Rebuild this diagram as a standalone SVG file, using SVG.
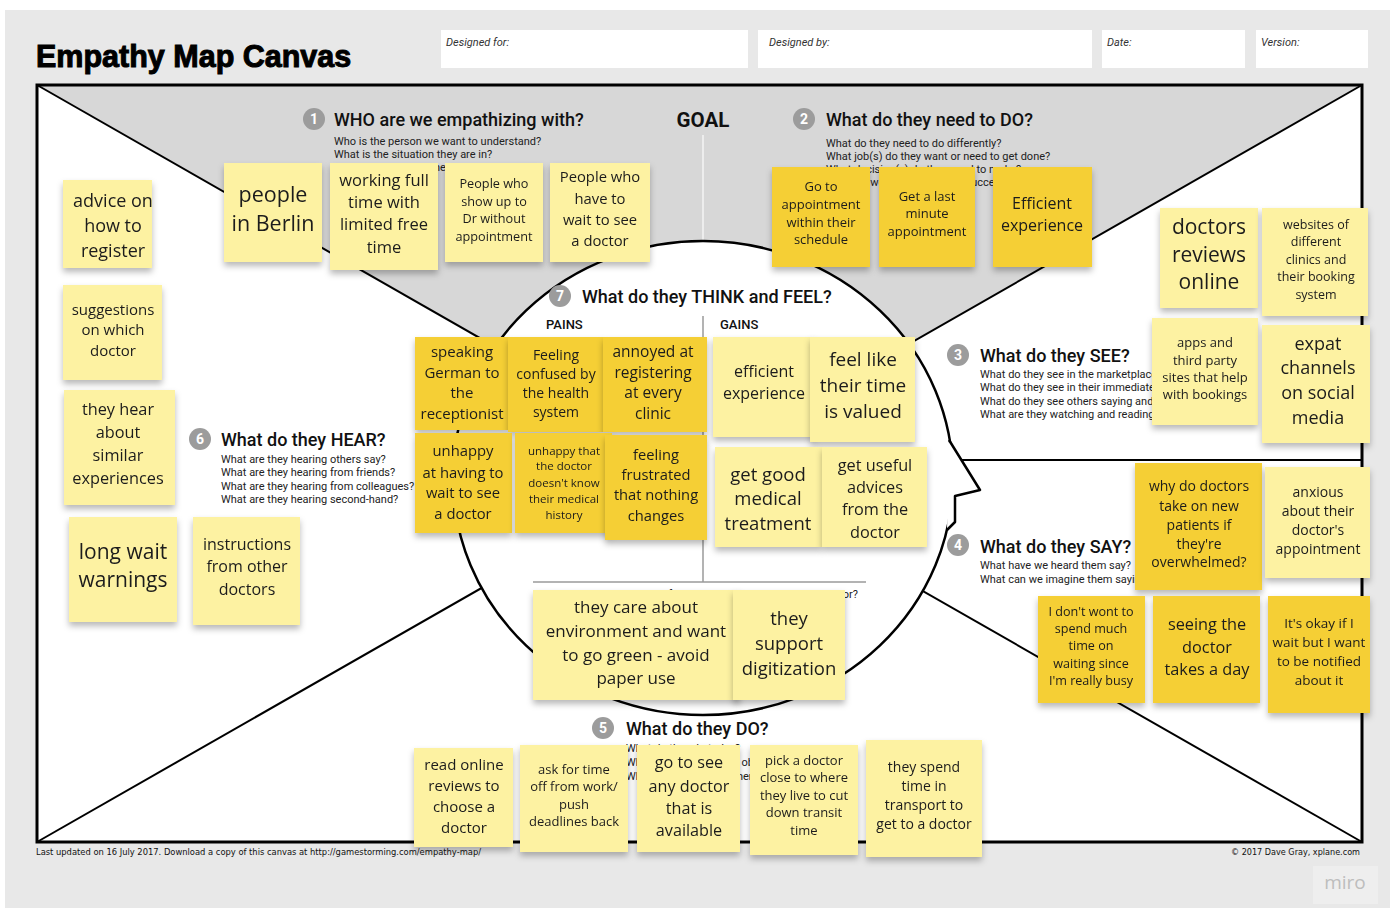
<svg xmlns="http://www.w3.org/2000/svg" width="1400" height="920" viewBox="0 0 1400 920">
<defs>
<filter id="sh" x="-10%" y="-10%" width="120%" height="130%">
<feDropShadow dx="0" dy="4" stdDeviation="3" flood-color="#000" flood-opacity="0.28"/>
</filter>
<style>
.lt{fill:#fdf2a2}
.dk{fill:#f5cf34}
.st text{font-family:"Open Sans","Liberation Sans",sans-serif;fill:#1c1c1c;text-anchor:middle}
.h{font-family:Roboto,"Liberation Sans",sans-serif;font-weight:500;font-size:18px;fill:#111}
.q{font-family:Roboto,"Liberation Sans",sans-serif;font-size:11px;fill:#222}
.bd circle{fill:#9c9c9c}
.bd text{font-family:Roboto,"Liberation Sans",sans-serif;font-weight:700;font-size:14px;fill:#fff;text-anchor:middle}
.lbl{font-family:Roboto,"Liberation Sans",sans-serif;font-style:italic;font-size:11px;fill:#333}
.ln{stroke:#000;stroke-width:2;fill:none}
.gl{stroke:#9a9a9a;stroke-width:1.5;fill:none}
</style>
</defs>
<rect x="0" y="0" width="1400" height="920" fill="#fff"/>
<rect x="5" y="10" width="1385" height="898" fill="#e8e8e8"/>
<text x="36" y="67" font-family="'Liberation Sans',Arial,sans-serif" font-weight="700" font-size="30.5" stroke="#000" stroke-width="1" fill="#000">Empathy Map Canvas</text>
<g id="header">
<rect x="441" y="30" width="307" height="38" fill="#fff"/>
<rect x="758" y="30" width="334" height="38" fill="#fff"/>
<rect x="1102" y="30" width="143" height="38" fill="#fff"/>
<rect x="1256" y="30" width="112" height="38" fill="#fff"/>
<text class="lbl" x="446" y="46">Designed for:</text>
<text class="lbl" x="769" y="46">Designed by:</text>
<text class="lbl" x="1107" y="46">Date:</text>
<text class="lbl" x="1261" y="46">Version:</text>
</g>
<g id="canvas">
<rect x="37" y="85" width="1325" height="757" fill="#fff"/>
<polygon points="37,85 1362,85 699.5,463.5" fill="#d7d7d7"/>
<line class="ln" x1="37" y1="85" x2="1362" y2="842"/>
<line class="ln" x1="1362" y1="85" x2="37" y2="842"/>
<line x1="703" y1="135" x2="703" y2="250" stroke="#f4f4f4" stroke-width="1.5"/>
<line class="ln" x1="940" y1="460" x2="1362" y2="460"/>
<ellipse cx="703" cy="478" rx="250" ry="237" fill="#fff" stroke="#000" stroke-width="2.5"/>
<path d="M949,440 L980,490 L955,496 L955,522 L947,530" fill="#fff" stroke="#000" stroke-width="2.5" stroke-linejoin="round"/>
<line class="gl" x1="703" y1="316" x2="703" y2="582"/>
<line class="gl" x1="533" y1="582" x2="866" y2="582"/>
<rect x="37" y="85" width="1325" height="757" fill="none" stroke="#000" stroke-width="3"/>
<text x="703" y="127" text-anchor="middle" font-family="Roboto,'Liberation Sans',sans-serif" font-weight="700" font-size="20.5" fill="#111">GOAL</text>
</g>
<g id="s1">
<g class="bd"><circle cx="314" cy="119" r="11"/><text x="314" y="124">1</text></g>
<text class="h" x="334" y="126">WHO are we empathizing with?</text>
<text class="q" x="334" y="145">Who is the person we want to understand?</text>
<text class="q" x="334" y="158">What is the situation they are in?</text>
<text class="q" x="334" y="171">What is their role in the situation?</text>
</g>
<g id="s2">
<g class="bd"><circle cx="804" cy="119" r="11"/><text x="804" y="124">2</text></g>
<text class="h" x="826" y="126">What do they need to DO?</text>
<text class="q" x="826" y="147">What do they need to do differently?</text>
<text class="q" x="826" y="160">What job(s) do they want or need to get done?</text>
<text class="q" x="826" y="173">What decision(s) do they need to make?</text>
<text class="q" x="826" y="186">How will we know they were successful?</text>
</g>
<g id="s3">
<g class="bd"><circle cx="958" cy="355" r="11"/><text x="958" y="360">3</text></g>
<text class="h" x="980" y="362">What do they SEE?</text>
<text class="q" x="980" y="378">What do they see in the marketplace?</text>
<text class="q" x="980" y="391">What do they see in their immediate environment?</text>
<text class="q" x="980" y="405">What do they see others saying and doing?</text>
<text class="q" x="980" y="418">What are they watching and reading?</text>
</g>
<g id="s4">
<g class="bd"><circle cx="958" cy="545" r="11"/><text x="958" y="550">4</text></g>
<text class="h" x="980" y="553">What do they SAY?</text>
<text class="q" x="980" y="569">What have we heard them say?</text>
<text class="q" x="980" y="583">What can we imagine them saying?</text>
</g>
<g id="s5">
<g class="bd"><circle cx="603" cy="728" r="11"/><text x="603" y="733">5</text></g>
<text class="h" x="626" y="735">What do they DO?</text>
<text class="q" x="626" y="752">What do they do today?</text>
<text class="q" x="626" y="766">What behavior have we observed?</text>
<text class="q" x="626" y="780">What can we imagine them doing?</text>
</g>
<g id="s6">
<g class="bd"><circle cx="200" cy="439" r="11"/><text x="200" y="444">6</text></g>
<text class="h" x="221" y="446">What do they HEAR?</text>
<text class="q" x="221" y="463">What are they hearing others say?</text>
<text class="q" x="221" y="476">What are they hearing from friends?</text>
<text class="q" x="221" y="490">What are they hearing from colleagues?</text>
<text class="q" x="221" y="503">What are they hearing second-hand?</text>
</g>
<g id="s7">
<g class="bd"><circle cx="560" cy="296" r="11"/><text x="560" y="301">7</text></g>
<text class="h" x="582" y="303">What do they THINK and FEEL?</text>
<text x="546" y="329" font-family="Roboto,'Liberation Sans',sans-serif" font-weight="500" font-size="13" fill="#111">PAINS</text>
<text x="720" y="329" font-family="Roboto,'Liberation Sans',sans-serif" font-weight="500" font-size="13" fill="#111">GAINS</text>
<text class="q" x="858" y="598" text-anchor="end">What other thoughts and feelings might motivate their behavior?</text>
</g>
<g id="n1" class="st" filter="url(#sh)"><rect class="lt" x="63" y="180" width="89" height="88"/><g font-size="18"><text x="113" y="207">advice on</text><text x="113" y="232">how to</text><text x="113" y="257">register</text></g></g>
<g id="n2" class="st" filter="url(#sh)"><rect class="lt" x="63" y="285" width="99" height="95"/><g font-size="15"><text x="113" y="315">suggestions</text><text x="113" y="335">on which</text><text x="113" y="356">doctor</text></g></g>
<g id="n3" class="st" filter="url(#sh)"><rect class="lt" x="64" y="390" width="111" height="115"/><g font-size="16.3"><text x="118" y="415">they hear</text><text x="118" y="438">about</text><text x="118" y="461">similar</text><text x="118" y="484">experiences</text></g></g>
<g id="n4" class="st" filter="url(#sh)"><rect class="lt" x="69" y="517" width="108" height="105"/><g font-size="21"><text x="123" y="559">long wait</text><text x="123" y="587">warnings</text></g></g>
<g id="n5" class="st" filter="url(#sh)"><rect class="lt" x="193" y="517" width="107" height="108"/><g font-size="16"><text x="247" y="550">instructions</text><text x="247" y="572">from other</text><text x="247" y="595">doctors</text></g></g>
<g id="n6" class="st" filter="url(#sh)"><rect class="lt" x="224" y="163" width="98" height="99"/><g font-size="21.5"><text x="273" y="202">people</text><text x="273" y="231">in Berlin</text></g></g>
<g id="n7" class="st" filter="url(#sh)"><rect class="lt" x="330" y="163" width="108" height="107"/><g font-size="16.5"><text x="384" y="186">working full</text><text x="384" y="208">time with</text><text x="384" y="230">limited free</text><text x="384" y="253">time</text></g></g>
<g id="n8" class="st" filter="url(#sh)"><rect class="lt" x="445" y="163" width="98" height="99"/><g font-size="12.7"><text x="494" y="188">People who</text><text x="494" y="206">show up to</text><text x="494" y="223">Dr without</text><text x="494" y="241">appointment</text></g></g>
<g id="n9" class="st" filter="url(#sh)"><rect class="lt" x="550" y="163" width="100" height="99"/><g font-size="14.8"><text x="600" y="182">People who</text><text x="600" y="204">have to</text><text x="600" y="225">wait to see</text><text x="600" y="246">a doctor</text></g></g>
<g id="n10" class="st" filter="url(#sh)"><rect class="dk" x="772" y="167" width="98" height="100"/><g font-size="13"><text x="821" y="191">Go to</text><text x="821" y="209">appointment</text><text x="821" y="227">within their</text><text x="821" y="244">schedule</text></g></g>
<g id="n11" class="st" filter="url(#sh)"><rect class="dk" x="879" y="167" width="96" height="100"/><g font-size="13"><text x="927" y="201">Get a last</text><text x="927" y="218">minute</text><text x="927" y="236">appointment</text></g></g>
<g id="n12" class="st" filter="url(#sh)"><rect class="dk" x="993" y="167" width="99" height="100"/><g font-size="16"><text x="1042" y="209">Efficient</text><text x="1042" y="231">experience</text></g></g>
<g id="n13" class="st" filter="url(#sh)"><rect class="lt" x="1160" y="208" width="98" height="100"/><g font-size="21"><text x="1209" y="234">doctors</text><text x="1209" y="262">reviews</text><text x="1209" y="289">online</text></g></g>
<g id="n14" class="st" filter="url(#sh)"><rect class="lt" x="1262" y="208" width="106" height="108"/><g font-size="12.5"><text x="1316" y="229">websites of</text><text x="1316" y="246">different</text><text x="1316" y="264">clinics and</text><text x="1316" y="281">their booking</text><text x="1316" y="299">system</text></g></g>
<g id="n15" class="st" filter="url(#sh)"><rect class="lt" x="1152" y="318" width="106" height="107"/><g font-size="13"><text x="1205" y="347">apps and</text><text x="1205" y="365">third party</text><text x="1205" y="382">sites that help</text><text x="1205" y="399">with bookings</text></g></g>
<g id="n16" class="st" filter="url(#sh)"><rect class="lt" x="1262" y="325" width="108" height="118"/><g font-size="18"><text x="1318" y="350">expat</text><text x="1318" y="374">channels</text><text x="1318" y="399">on social</text><text x="1318" y="424">media</text></g></g>
<g id="n17" class="st" filter="url(#sh)"><rect class="dk" x="1135" y="463" width="127" height="127"/><g font-size="14"><text x="1199" y="491">why do doctors</text><text x="1199" y="511">take on new</text><text x="1199" y="530">patients if</text><text x="1199" y="549">they're</text><text x="1199" y="567">overwhelmed?</text></g></g>
<g id="n18" class="st" filter="url(#sh)"><rect class="lt" x="1265" y="467" width="105" height="111"/><g font-size="14"><text x="1318" y="497">anxious</text><text x="1318" y="516">about their</text><text x="1318" y="535">doctor's</text><text x="1318" y="554">appointment</text></g></g>
<g id="n19" class="st" filter="url(#sh)"><rect class="dk" x="1038" y="596" width="107" height="107"/><g font-size="12.6"><text x="1091" y="616">I don't wont to</text><text x="1091" y="633">spend much</text><text x="1091" y="650">time on</text><text x="1091" y="668">waiting since</text><text x="1091" y="685">I'm really busy</text></g></g>
<g id="n20" class="st" filter="url(#sh)"><rect class="dk" x="1153" y="596" width="107" height="107"/><g font-size="16.3"><text x="1207" y="630">seeing the</text><text x="1207" y="653">doctor</text><text x="1207" y="675">takes a day</text></g></g>
<g id="n21" class="st" filter="url(#sh)"><rect class="dk" x="1268" y="596" width="102" height="117"/><g font-size="13.5"><text x="1319" y="628">It's okay if I</text><text x="1319" y="647">wait but I want</text><text x="1319" y="666">to be notified</text><text x="1319" y="685">about it</text></g></g>
<g id="n22" class="st" filter="url(#sh)"><rect class="dk" x="415" y="337" width="93" height="93"/><g font-size="15"><text x="462" y="357">speaking</text><text x="462" y="378">German to</text><text x="462" y="398">the</text><text x="462" y="419">receptionist</text></g></g>
<g id="n23" class="st" filter="url(#sh)"><rect class="dk" x="508" y="337" width="95" height="95"/><g font-size="14"><text x="556" y="360">Feeling</text><text x="556" y="379">confused by</text><text x="556" y="398">the health</text><text x="556" y="417">system</text></g></g>
<g id="n24" class="st" filter="url(#sh)"><rect class="dk" x="603" y="337" width="104" height="95"/><g font-size="15.5"><text x="653" y="357">annoyed at</text><text x="653" y="378">registering</text><text x="653" y="398">at every</text><text x="653" y="419">clinic</text></g></g>
<g id="n25" class="st" filter="url(#sh)"><rect class="dk" x="415" y="433" width="97" height="100"/><g font-size="14.8"><text x="463" y="456">unhappy</text><text x="463" y="478">at having to</text><text x="463" y="498">wait to see</text><text x="463" y="519">a doctor</text></g></g>
<g id="n26" class="st" filter="url(#sh)"><rect class="dk" x="515" y="433" width="97" height="100"/><g font-size="11.5"><text x="564" y="455">unhappy that</text><text x="564" y="470">the doctor</text><text x="564" y="487">doesn't know</text><text x="564" y="503">their medical</text><text x="564" y="519">history</text></g></g>
<g id="n27" class="st" filter="url(#sh)"><rect class="dk" x="605" y="435" width="102" height="105"/><g font-size="14.7"><text x="656" y="460">feeling</text><text x="656" y="480">frustrated</text><text x="656" y="500">that nothing</text><text x="656" y="521">changes</text></g></g>
<g id="n28" class="st" filter="url(#sh)"><rect class="lt" x="713" y="337" width="102" height="100"/><g font-size="16"><text x="764" y="377">efficient</text><text x="764" y="399">experience</text></g></g>
<g id="n29" class="st" filter="url(#sh)"><rect class="lt" x="810" y="337" width="105" height="105"/><g font-size="19"><text x="863" y="366">feel like</text><text x="863" y="392">their time</text><text x="863" y="418">is valued</text></g></g>
<g id="n30" class="st" filter="url(#sh)"><rect class="lt" x="715" y="447" width="107" height="100"/><g font-size="18.5"><text x="768" y="481">get good</text><text x="768" y="505">medical</text><text x="768" y="530">treatment</text></g></g>
<g id="n31" class="st" filter="url(#sh)"><rect class="lt" x="822" y="447" width="105" height="100"/><g font-size="16.3"><text x="875" y="471">get useful</text><text x="875" y="493">advices</text><text x="875" y="515">from the</text><text x="875" y="538">doctor</text></g></g>
<g id="n32" class="st" filter="url(#sh)"><rect class="lt" x="533" y="590" width="207" height="110"/><g font-size="17"><text x="636" y="613">they care about</text><text x="636" y="637">environment and want</text><text x="636" y="661">to go green - avoid</text><text x="636" y="684">paper use</text></g></g>
<g id="n33" class="st" filter="url(#sh)"><rect class="lt" x="733" y="590" width="112" height="110"/><g font-size="18.5"><text x="789" y="625">they</text><text x="789" y="650">support</text><text x="789" y="675">digitization</text></g></g>
<g id="n34" class="st" filter="url(#sh)"><rect class="lt" x="414" y="748" width="99" height="99"/><g font-size="15"><text x="464" y="770">read online</text><text x="464" y="791">reviews to</text><text x="464" y="812">choose a</text><text x="464" y="833">doctor</text></g></g>
<g id="n35" class="st" filter="url(#sh)"><rect class="lt" x="520" y="745" width="108" height="107"/><g font-size="13"><text x="574" y="774">ask for time</text><text x="574" y="791">off from work/</text><text x="574" y="809">push</text><text x="574" y="826">deadlines back</text></g></g>
<g id="n36" class="st" filter="url(#sh)"><rect class="lt" x="637" y="745" width="103" height="107"/><g font-size="16.2"><text x="689" y="768">go to see</text><text x="689" y="792">any doctor</text><text x="689" y="814">that is</text><text x="689" y="836">available</text></g></g>
<g id="n37" class="st" filter="url(#sh)"><rect class="lt" x="750" y="745" width="108" height="110"/><g font-size="13"><text x="804" y="765">pick a doctor</text><text x="804" y="782">close to where</text><text x="804" y="800">they live to cut</text><text x="804" y="817">down transit</text><text x="804" y="835">time</text></g></g>
<g id="n38" class="st" filter="url(#sh)"><rect class="lt" x="866" y="740" width="116" height="117"/><g font-size="14"><text x="924" y="772">they spend</text><text x="924" y="791">time in</text><text x="924" y="810">transport to</text><text x="924" y="829">get to a doctor</text></g></g>
<g id="footer">
<text x="36" y="855" font-family="'DejaVu Sans Condensed','Liberation Sans',sans-serif" font-size="9" fill="#111" textLength="445" lengthAdjust="spacingAndGlyphs">Last updated on 16 July 2017. Download a copy of this canvas at http://gamestorming.com/empathy-map/</text>
<text x="1360" y="855" text-anchor="end" font-family="'DejaVu Sans Condensed','Liberation Sans',sans-serif" font-size="9" fill="#111">© 2017 Dave Gray, xplane.com</text>
<rect x="1313" y="866" width="65" height="38" fill="#eeeeee"/>
<text x="1345" y="889" text-anchor="middle" font-family="'Open Sans','Liberation Sans',sans-serif" font-size="19" fill="#bdbdbd">miro</text>
</g>
</svg>
